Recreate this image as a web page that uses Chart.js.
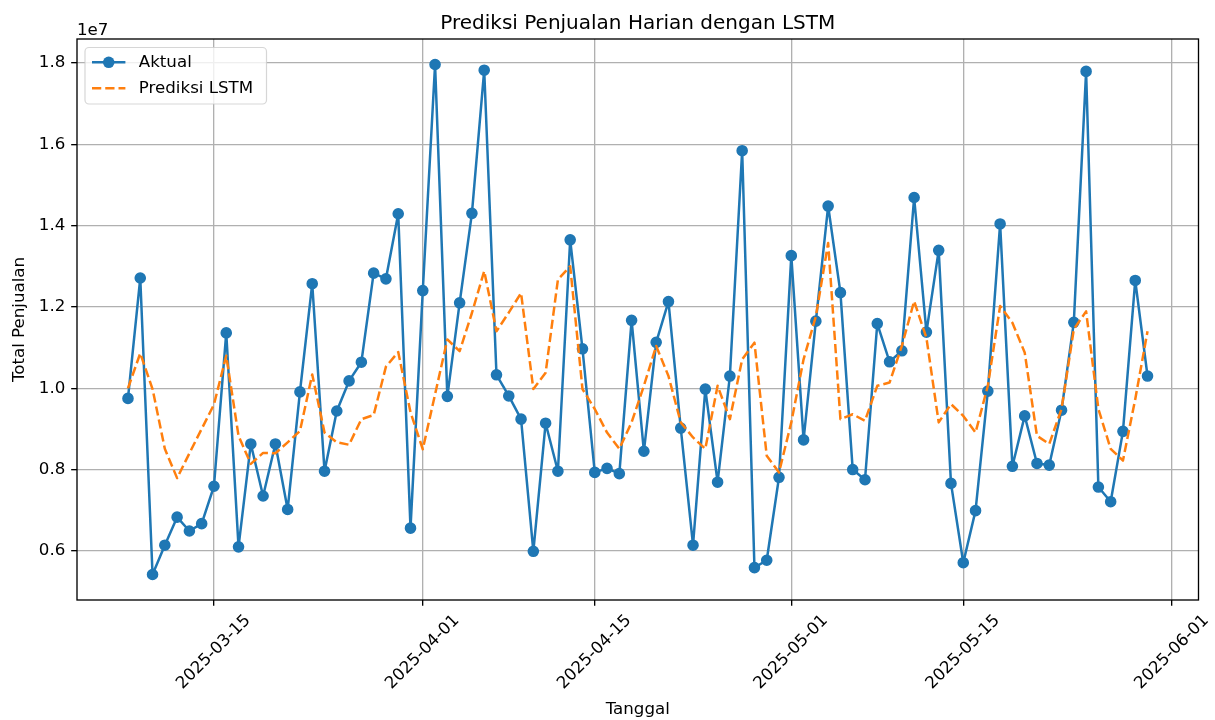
<!DOCTYPE html>
<html>
<head>
<meta charset="utf-8">
<title>Prediksi Penjualan Harian dengan LSTM</title>
<script src="https://cdn.jsdelivr.net/npm/chart.js@4.4.1/dist/chart.umd.min.js"></script>
<style>
  html, body { margin: 0; padding: 0; background: #fff; }
  #wrap { width: 1215px; height: 720px; }
</style>
</head>
<body>
<div id="wrap"><canvas id="salesChart" width="1215" height="720"></canvas></div>
<script>
// tanggal harian (sumbu x)
const tanggal = [
  '2025-03-08','2025-03-09','2025-03-10','2025-03-11','2025-03-12','2025-03-13','2025-03-14',
  '2025-03-15','2025-03-16','2025-03-17','2025-03-18','2025-03-19','2025-03-20','2025-03-21',
  '2025-03-22','2025-03-23','2025-03-24','2025-03-25','2025-03-26','2025-03-27','2025-03-28',
  '2025-03-29','2025-03-30','2025-03-31','2025-04-01','2025-04-02','2025-04-03','2025-04-04',
  '2025-04-05','2025-04-06','2025-04-07','2025-04-08','2025-04-09','2025-04-10','2025-04-11',
  '2025-04-12','2025-04-13','2025-04-14','2025-04-15','2025-04-16','2025-04-17','2025-04-18',
  '2025-04-19','2025-04-20','2025-04-21','2025-04-22','2025-04-23','2025-04-24','2025-04-25',
  '2025-04-26','2025-04-27','2025-04-28','2025-04-29','2025-04-30','2025-05-01','2025-05-02',
  '2025-05-03','2025-05-04','2025-05-05','2025-05-06','2025-05-07','2025-05-08','2025-05-09',
  '2025-05-10','2025-05-11','2025-05-12','2025-05-13','2025-05-14','2025-05-15','2025-05-16',
  '2025-05-17','2025-05-18','2025-05-19','2025-05-20','2025-05-21','2025-05-22','2025-05-23',
  '2025-05-24','2025-05-25','2025-05-26','2025-05-27','2025-05-28','2025-05-29','2025-05-30'
];

const aktual = [
  9750000, 12710000, 5420000, 6140000, 6830000, 6490000, 6670000,
  7590000, 11360000, 6100000, 8630000, 7350000, 8630000, 7020000,
  9910000, 12570000, 7960000, 9440000, 10180000, 10640000, 12830000,
  12690000, 14290000, 6560000, 12400000, 17960000, 9800000, 12100000,
  14300000, 17820000, 10330000, 9810000, 9240000, 5990000, 9140000,
  7960000, 13650000, 10970000, 7930000, 8030000, 7900000, 11670000,
  8450000, 11130000, 12130000, 9020000, 6140000, 9980000, 7690000,
  10300000, 15840000, 5590000, 5770000, 7810000, 13260000, 8730000,
  11650000, 14480000, 12350000, 8000000, 7750000, 11590000, 10650000,
  10920000, 14690000, 11380000, 13390000, 7660000, 5710000, 6990000,
  9930000, 14040000, 8080000, 9320000, 8150000, 8110000, 9460000,
  11620000, 17790000, 7570000, 7210000, 8940000, 12650000, 10300000
];

const prediksiLstm = [
  10000000, 10860000, 9980000, 8510000, 7790000, 8400000, 9000000,
  9600000, 10800000, 8830000, 8140000, 8410000, 8400000, 8670000,
  8950000, 10340000, 8910000, 8670000, 8610000, 9240000, 9340000,
  10530000, 10890000, 9410000, 8500000, 9850000, 11200000, 10910000,
  11850000, 12880000, 11400000, 11860000, 12340000, 9980000, 10380000,
  12670000, 13000000, 9980000, 9490000, 8910000, 8510000, 9160000,
  10060000, 11040000, 10300000, 9160000, 8790000, 8510000, 10060000,
  9240000, 10710000, 11120000, 8340000, 7930000, 9160000, 10710000,
  11770000, 13570000, 9240000, 9360000, 9200000, 10060000, 10140000,
  11040000, 12140000, 11240000, 9160000, 9610000, 9320000, 8910000,
  10060000, 12020000, 11610000, 10880000, 8830000, 8630000, 9490000,
  11450000, 11890000, 9490000, 8510000, 8220000, 9730000, 11400000
];

const tickTanggal = ['2025-03-15', '2025-04-01', '2025-04-15', '2025-05-01', '2025-05-15', '2025-06-01'];
const yTicks = [6000000, 8000000, 10000000, 12000000, 14000000, 16000000, 18000000];

const warnaAktual = '#1f77b4';
const warnaPrediksi = '#ff7f0e';
const FONT = 'DejaVu Sans';
const PT = 1.667; // px per pt
const MARKER_R = 5;

const dayNum = s => Date.parse(s + 'T00:00:00Z') / 86400000;

// margin 5% seperti matplotlib
const xFirst = dayNum(tanggal[0]);
const xLast = dayNum(tanggal[tanggal.length - 1]);
const xPad = (xLast - xFirst) * 0.05;
const semua = aktual.concat(prediksiLstm);
const yLo = Math.min(...semua), yHi = Math.max(...semua);
const yPad = (yHi - yLo) * 0.05;

Chart.defaults.font.family = FONT;
Chart.defaults.font.size = 10 * PT;
Chart.defaults.color = '#000';

const hiasan = {
    id: 'hiasan',
    afterDatasetsDraw(chart) {
        const { ctx, chartArea: a } = chart;
        ctx.save();

        // spines
        ctx.strokeStyle = '#000';
        ctx.lineWidth = 0.8 * PT;
        ctx.strokeRect(a.left, a.top, a.right - a.left, a.bottom - a.top);

        // legend
        const lx = a.left + 8, ly = a.top + 8.5, lw = 181.5, lh = 56.5;
        ctx.beginPath();
        ctx.roundRect(lx, ly, lw, lh, 4);
        ctx.fillStyle = 'rgba(255,255,255,0.8)';
        ctx.fill();
        ctx.strokeStyle = 'rgba(204,204,204,0.8)';
        ctx.lineWidth = 1.2;
        ctx.stroke();

        const hx0 = lx + 7, hx1 = hx0 + 33.4, tx = hx1 + 13.4;
        const r1 = ly + 14.8, r2 = ly + 40.8;

        ctx.lineWidth = 1.5 * PT;
        ctx.strokeStyle = warnaAktual;
        ctx.beginPath(); ctx.moveTo(hx0, r1); ctx.lineTo(hx1, r1); ctx.stroke();
        ctx.fillStyle = warnaAktual;
        ctx.beginPath(); ctx.arc((hx0 + hx1) / 2, r1, MARKER_R + 0.8, 0, Math.PI * 2); ctx.fill();

        ctx.strokeStyle = warnaPrediksi;
        ctx.setLineDash([3.7 * 1.5 * PT, 1.6 * 1.5 * PT]);
        ctx.beginPath(); ctx.moveTo(hx0, r2); ctx.lineTo(hx1, r2); ctx.stroke();
        ctx.setLineDash([]);

        ctx.fillStyle = '#000';
        ctx.font = `${10 * PT}px "${FONT}"`;
        ctx.textAlign = 'left';
        ctx.textBaseline = 'middle';
        ctx.fillText('Aktual', tx, r1);
        ctx.fillText('Prediksi LSTM', tx, r2);
        ctx.restore();
    },
    afterDraw(chart) {
        const { ctx, chartArea: a } = chart;
        ctx.save();
        ctx.fillStyle = '#000';
        ctx.textBaseline = 'alphabetic';
        ctx.font = `${12 * PT}px "${FONT}"`;
        ctx.textAlign = 'center';
        ctx.fillText('Prediksi Penjualan Harian dengan LSTM', (a.left + a.right) / 2, 28.5);
        ctx.font = `${10 * PT}px "${FONT}"`;
        ctx.textAlign = 'left';
        ctx.fillText('1e7', a.left, 35);
        ctx.restore();
    }
};

const gridStyle = {
    color: '#b0b0b0',
    lineWidth: 0.8 * PT,
    tickColor: '#000',
    tickLength: 3.5 * PT,
    tickWidth: 0.8 * PT
};

new Chart(document.getElementById('salesChart'), {
    type: 'line',
    data: {
        datasets: [
            {
                label: 'Aktual',
                data: tanggal.map((t, i) => ({ x: dayNum(t), y: aktual[i] })),
                borderColor: warnaAktual,
                backgroundColor: warnaAktual,
                borderWidth: 1.5 * PT,
                borderJoinStyle: 'round',
                borderCapStyle: 'round',
                pointRadius: MARKER_R,
                pointBorderWidth: 1.6,
                pointBackgroundColor: warnaAktual,
                pointBorderColor: warnaAktual,
                tension: 0,
                fill: false,
                order: 1
            },
            {
                label: 'Prediksi LSTM',
                data: tanggal.map((t, i) => ({ x: dayNum(t), y: prediksiLstm[i] })),
                borderColor: warnaPrediksi,
                backgroundColor: warnaPrediksi,
                borderWidth: 1.5 * PT,
                borderDash: [3.7 * 1.5 * PT, 1.6 * 1.5 * PT],
                borderJoinStyle: 'round',
                borderCapStyle: 'butt',
                pointRadius: 0,
                tension: 0,
                fill: false,
                order: 0
            }
        ]
    },
    options: {
        responsive: false,
        animation: false,
        devicePixelRatio: 1,
        layout: { padding: { left: 0, top: 39, right: 16.5, bottom: 0 } },
        plugins: {
            legend: { display: false },
            title: { display: false },
            tooltip: { enabled: false }
        },
        scales: {
            x: {
                type: 'linear',
                min: xFirst - xPad,
                max: xLast + xPad,
                afterBuildTicks: axis => {
                    axis.ticks = tickTanggal.map(t => ({ value: dayNum(t) }));
                },
                afterFit: axis => { axis.height = 120; },
                border: { display: false },
                grid: gridStyle,
                ticks: {
                    autoSkip: false,
                    maxRotation: 45,
                    minRotation: 45,
                    labelOffset: 34,
                    padding: 5,
                    callback: (v, i) => tickTanggal[i]
                },
                title: {
                    display: true,
                    text: 'Tanggal',
                    padding: { top: 0, bottom: 0 }
                }
            },
            y: {
                min: yLo - yPad,
                max: yHi + yPad,
                afterBuildTicks: axis => {
                    axis.ticks = yTicks.map(v => ({ value: v }));
                },
                afterFit: axis => { axis.width = 77; },
                border: { display: false },
                grid: gridStyle,
                ticks: {
                    padding: 3.5 * PT,
                    callback: v => (v / 1e7).toFixed(1)
                },
                title: {
                    display: true,
                    text: 'Total Penjualan',
                    padding: { top: 10, bottom: 0 }
                }
            }
        }
    },
    plugins: [hiasan]
});
</script>
</body>
</html>
